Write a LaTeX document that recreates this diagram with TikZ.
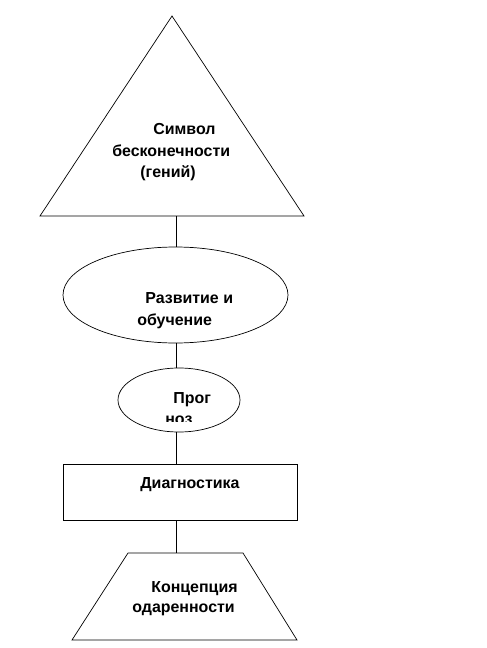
\documentclass[tikz,border=0pt]{standalone}
\usepackage{fontspec}
\setmainfont{Liberation Sans}
\usepackage{tikz}
\usetikzlibrary{shapes.geometric}

\begin{document}
\begin{tikzpicture}[x=1bp, y=-1bp, line width=0.7bp,
    every node/.style={font=\bfseries\fontsize{16}{20}\selectfont, inner sep=0pt},
    txt/.style={anchor=base west},
    shapebox/.style={draw, minimum width=0pt, minimum height=0pt}]
  \useasboundingbox (0,0) rectangle (487,648);

  % Triangle: symbol of infinity
  \coordinate (apex) at (172,16);
  \coordinate (triL) at (40,216);
  \coordinate (triR) at (304,216);
  \coordinate (triB) at (176,216);
  \draw (apex) -- (triL) -- (triR) -- cycle;
  \node[txt] (sym1) at (153,135) {Символ};
  \node[txt] (sym2) at (112,157) {бесконечности};
  \node[txt] (sym3) at (140,178) {(гений)};

  % Development ellipse
  \node[shapebox, ellipse, minimum width=225bp, minimum height=96bp] (dev) at (175.5,295) {};
  \node[txt] (dev1) at (145,303) {Развитие и};
  \node[txt] (dev2) at (137,325) {обучение};

  % Prognosis ellipse
  \node[shapebox, ellipse, minimum width=122bp, minimum height=64bp] (prog) at (179,400) {};
  \node[txt] (prog1) at (173,403) {Прог};
  \begin{scope}
    \clip (100,380) rectangle (260,421);
    \node[txt] (prog2) at (165,424) {ноз};
  \end{scope}

  % Diagnostics box
  \node[shapebox, rectangle, minimum width=234bp, minimum height=56bp] (diag) at (180,492) {};
  \node[txt] (diag1) at (140,488) {Диагностика};

  % Concept trapezium
  \coordinate (trTL) at (128,553);
  \coordinate (trTR) at (243,553);
  \coordinate (trBR) at (297,640);
  \coordinate (trBL) at (72,640);
  \coordinate (trT) at (176,553);
  \draw (trTL) -- (trTR) -- (trBR) -- (trBL) -- cycle;
  \node[txt] (con1) at (151,592) {Концепция};
  \node[txt] (con2) at (132,612) {одаренности};

  % Connectors
  \draw (triB) -- (triB |- dev.north);
  \draw (triB |- dev.south) -- (triB |- prog.north);
  \draw (triB |- prog.south) -- (triB |- diag.north);
  \draw (triB |- diag.south) -- (trT);
\end{tikzpicture}
\end{document}
